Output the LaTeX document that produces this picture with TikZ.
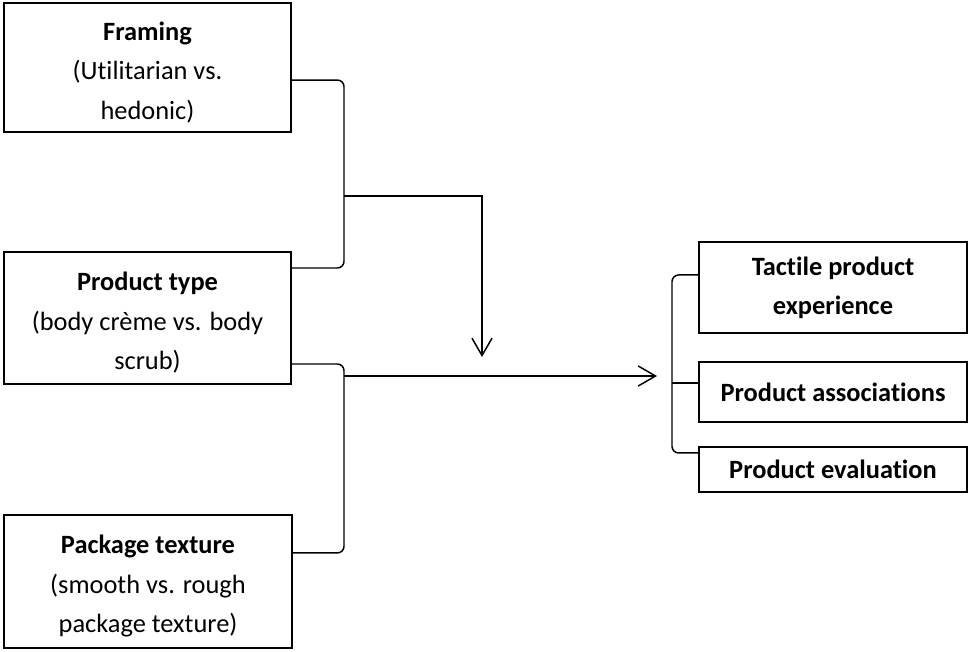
\documentclass[tikz,border=0pt]{standalone}
\usepackage{fontspec}
\setmainfont[Ligatures=NoCommon]{Carlito}
\usetikzlibrary{arrows.meta}

% taller first line, to set the text a little lower
\newcommand{\toprule}{\rule{0pt}{21pt}}

\begin{document}
\begin{tikzpicture}[
    x=0.75pt, y=-0.75pt,
    font=\fontsize{19.8}{29.5}\selectfont,
    box/.style={draw, line width=1.1pt, inner sep=0pt, align=center},
    conn/.style={line width=1.1pt, rounded corners=5pt},
    % open arrow head on the links
    link arrow/.style={line width=1.1pt, -{Straight Barb[length=13pt, width=15pt, line width=1.1pt]}}
]
    \useasboundingbox (0,0) rectangle (968,651);

    % Independent variables
    \node[box, minimum width=215pt, minimum height=96.75pt] (framing) at (147.5,67.5)
        {\toprule\textbf{Framing}\\(Utilitarian vs.\\hedonic)};
    \node[box, minimum width=215pt, minimum height=99pt] (ptype) at (147.5,318)
        {\toprule\textbf{Product type}\\(body crème vs. body\\scrub)};
    \node[box, minimum width=216pt, minimum height=99.75pt] (pack) at (148,581.5)
        {\toprule\textbf{Package texture}\\(smooth vs. rough\\package texture)};

    % Dependent variables
    \node[box, minimum width=201pt, minimum height=68.25pt] (tactile) at (833,287.5)
        {\textbf{Tactile product}\\\textbf{experience}};
    \node[box, minimum width=201pt, minimum height=45pt] (assoc) at (833,392)
        {\textbf{Product associations}};
    \node[box, minimum width=201pt, minimum height=33.75pt] (eval) at (833,469.5)
        {\textbf{Product evaluation}};

    % Junctions
    \coordinate (jointop) at (344,196);
    \coordinate (joinlow) at (344,376);
    \coordinate (droptip) at (482,357);
    \coordinate (fantip)  at (657,376);
    \coordinate (fan)     at (672,383);

    % Brackets on the left
    \draw[conn] ([yshift=-9.4pt]framing.east) -| (jointop) |- ([yshift=37.5pt]ptype.east);
    \draw[conn] ([yshift=-34.5pt]ptype.east) -| (joinlow) |- ([yshift=21.4pt]pack.east);

    % Arrows
    \draw[link arrow] (jointop) -| (droptip);
    \draw[link arrow] (joinlow) -- (fantip);

    % Bracket on the right
    \draw[conn] ([yshift=9.4pt]tactile.west) -| (fan) |- ([yshift=12.4pt]eval.west);
    \draw[conn] (fan) -- ([yshift=6.75pt]assoc.west);

\end{tikzpicture}
\end{document}
